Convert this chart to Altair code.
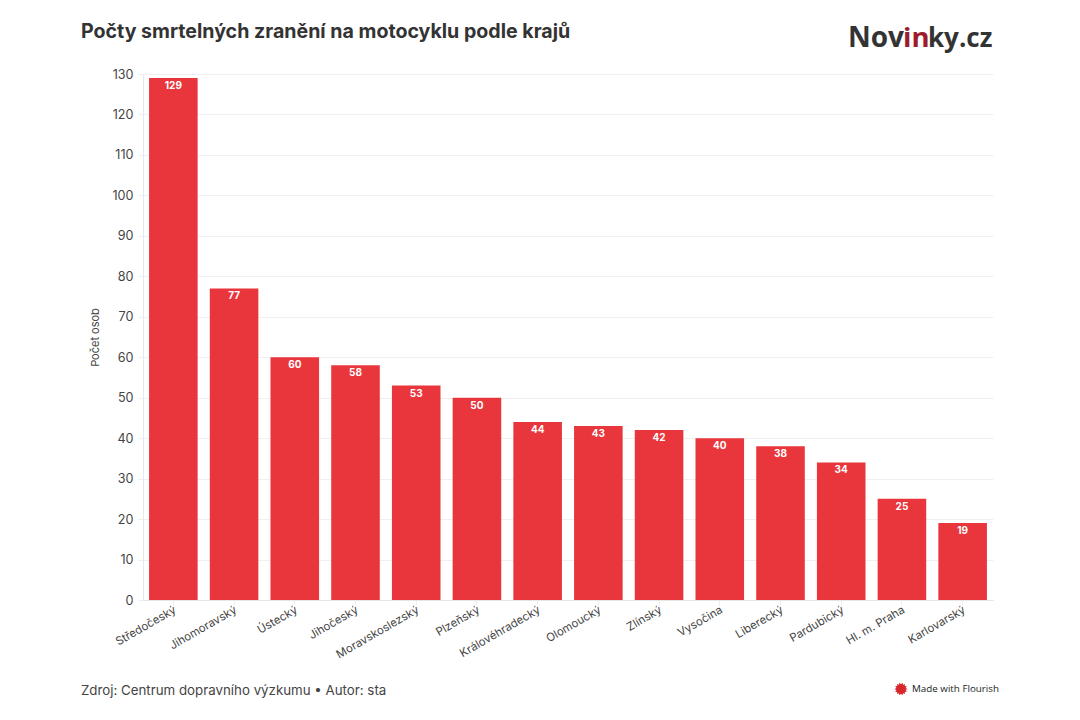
import math
import altair as alt
import pandas as pd

regions = ["Středočeský", "Jihomoravský", "Ústecký", "Jihočeský", "Moravskoslezský", "Plzeňský",
           "Královéhradecký", "Olomoucký", "Zlínský", "Vysočina", "Liberecký", "Pardubický",
           "Hl. m. Praha", "Karlovarský"]
counts = [129, 77, 60, 58, 53, 50, 44, 43, 42, 40, 38, 34, 25, 19]
y_ticks = list(range(0, 131, 10))
title_text = "Počty smrtelných zranění na motocyklu podle krajů"
source_text = "Zdroj: Centrum dopravního výzkumu • Autor: sta"

df = pd.DataFrame({"kraj": regions, "pocet": counts})
FONT = "Inter"
RED = "#e8363c"

x = alt.X("kraj:N", sort=regions, title=None,
          scale=alt.Scale(paddingInner=0.2, paddingOuter=0.1),
          axis=alt.Axis(labelAngle=-30, labelAlign="right", labelBaseline="middle",
                        labelFont=FONT, labelFontSize=11.4, labelColor="#444444",
                        labelPadding=4, labelOffset=2, tickColor="#eeeeee", tickSize=5,
                        domainColor="#e6e6e6", grid=False, labelOverlap=False))
y = alt.Y("pocet:Q", title="Počet osob",
          scale=alt.Scale(domain=[0, 130], nice=False),
          axis=alt.Axis(values=y_ticks, labelFont=FONT, labelFontSize=12.6, labelColor="#444444",
                        labelPadding=5, tickColor="#eeeeee", tickSize=5, domainColor="#e6e6e6",
                        gridColor="#f0f0f0", titleFont=FONT, titleFontSize=11,
                        titleFontWeight="normal", titleColor="#444444", titlePadding=11))

bars = alt.Chart(df).mark_bar(color=RED).encode(x=x, y=y)
values = alt.Chart(df).mark_text(font=FONT, fontSize=10, fontWeight="bold", color="white",
                                 baseline="top", dy=3).encode(
    x=alt.X("kraj:N", sort=regions), y="pocet:Q", text="pocet:Q")


def label(text, px, py, size, color="#333333", weight="normal", font=FONT, align="left",
          baseline="middle"):
    return alt.Chart(pd.DataFrame({"t": [text]})).mark_text(
        font=font, fontSize=size, fontWeight=weight, color=color, align=align, baseline=baseline
    ).encode(x=alt.value(px), y=alt.value(py), text="t:N")


def burst_path(spikes=14, inner=0.72):
    pts = []
    for i in range(spikes * 2):
        r = 1 if i % 2 == 0 else inner
        a = math.pi * i / spikes
        pts.append(f"{r * math.cos(a):.3f},{r * math.sin(a):.3f}")
    return "M" + "L".join(pts) + "Z"


icon = alt.Chart(pd.DataFrame({"t": [1]})).mark_point(
    shape=burst_path(), filled=True, color="#d9262c", size=170, opacity=1
).encode(x=alt.value(758), y=alt.value(615))

LOGO_FONT = "Open Sans"
chart = alt.layer(
    bars, values,
    label(title_text, -62, -42, 19.6, weight="bold"),
    label("Nov", 705, -27, 28, weight="bold", font=LOGO_FONT, baseline="alphabetic"),
    label("in", 760, -27, 27.5, color="#9c1c2e", weight="bold", font=LOGO_FONT, baseline="alphabetic"),
    label("ky.cz", 785, -27, 26, weight="bold", font=LOGO_FONT, baseline="alphabetic"),
    label(source_text, -62, 617, 13.3, color="#444444"),
    icon,
    label("Made with Flourish", 769, 615, 9.8, font=LOGO_FONT, color="#222222"),
).properties(
    width=850, height=526, autosize="none", background="white",
    padding={"left": 135, "top": 66, "right": 79, "bottom": 110}
).configure_view(stroke=None)

chart.save("out.html", embed_options={"renderer": "svg", "actions": False})
